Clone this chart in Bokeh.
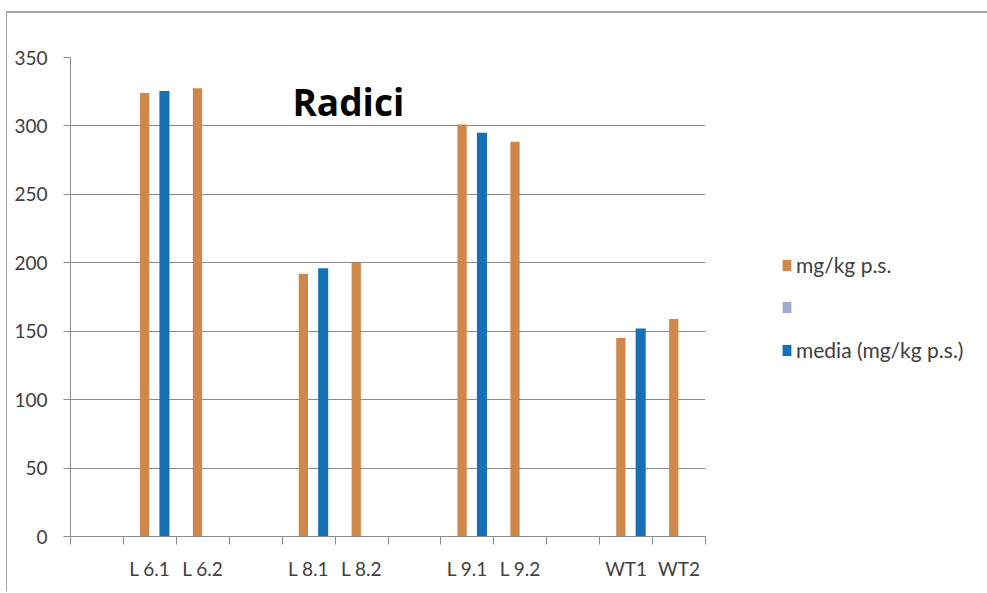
from bokeh.plotting import figure
from bokeh.models import FixedTicker, Legend, LegendItem, Label, ColumnDataSource, Range1d
from bokeh.embed import file_html
from bokeh.resources import INLINE

# ---- data ----
categories = ["", "L 6.1", "L 6.2", "", "L 8.1", "L 8.2", "", "L 9.1", "L 9.2", "", "WT1", "WT2"]
samples = ["L 6.1", "L 6.2", "L 8.1", "L 8.2", "L 9.1", "L 9.2", "WT1", "WT2"]
mg_kg = [324, 327.5, 192, 200, 301, 288.5, 145, 159]
media_samples = ["L 6.1", "L 8.1", "L 9.1", "WT1"]
media = [325.5, 196, 295, 152]
empty_samples = ["L 6.1"]
empty_values = [0]
y_ticks = [0, 50, 100, 150, 200, 250, 300, 350]
series_names = ["mg/kg p.s.", " ", "media (mg/kg p.s.)"]
title_text = "Radici"

ORANGE = "#D0874A"
GRAY = "#9AADD0"
BLUE = "#1570B6"
TEXT = "#404040"
LINE = "#8C8C8C"
FONT = "Lato"

n = len(categories)
centers = [i + 0.5 for i in range(n)]
bounds = list(range(n + 1))

p = figure(frame_width=635, frame_height=479, x_range=Range1d(0, n), y_range=Range1d(0, 350),
           output_backend="svg", toolbar_location=None,
           min_border_left=63, min_border_right=280, min_border_top=44, min_border_bottom=55)
p.outline_line_color = None
p.background_fill_color = "white"
p.border_fill_color = "white"
p.styles = {"border-top": "2px solid #a6a6a6", "border-left": "1px solid #a6a6a6",
            "margin-left": "6px", "margin-top": "11px"}

src_mg = ColumnDataSource(dict(x=[categories.index(s) + 0.5 - 0.1 for s in samples], top=mg_kg))
src_md = ColumnDataSource(dict(x=[categories.index(s) + 0.5 + 0.275 for s in media_samples], top=media))
src_empty = ColumnDataSource(dict(x=[categories.index(s) + 0.5 + 0.09 for s in empty_samples], top=empty_values))

r_mg = p.vbar(x="x", top="top", width=0.175, source=src_mg, fill_color=ORANGE, line_color=None)
r_empty = p.vbar(x="x", top="top", width=0.175, source=src_empty, fill_color=GRAY, line_color=None)
r_md = p.vbar(x="x", top="top", width=0.19, source=src_md, fill_color=BLUE, line_color=None)

# x axis: labels at centers, tick marks at boundaries
p.xaxis.ticker = FixedTicker(ticks=centers, minor_ticks=bounds)
p.xaxis.major_label_overrides = {c: lab for c, lab in zip(centers, categories)}
p.xaxis.major_tick_out = 0
p.xaxis.major_tick_in = 0
p.xaxis.minor_tick_out = 8
p.xaxis.minor_tick_in = 0
p.xaxis.minor_tick_line_color = LINE
p.xaxis.axis_line_color = LINE
p.xaxis.major_label_standoff = 12
p.xaxis.major_label_text_font = FONT
p.xaxis.major_label_text_font_size = "19px"
p.xaxis.major_label_text_color = TEXT
p.xgrid.grid_line_color = None

p.yaxis.ticker = FixedTicker(ticks=y_ticks)
p.yaxis.major_tick_out = 7
p.yaxis.major_tick_in = 0
p.yaxis.minor_tick_out = 0
p.yaxis.minor_tick_in = 0
p.yaxis.major_tick_line_color = LINE
p.yaxis.axis_line_color = LINE
p.yaxis.major_label_standoff = 16
p.yaxis.major_label_text_font = FONT
p.yaxis.major_label_text_font_size = "19px"
p.yaxis.major_label_text_color = TEXT
p.ygrid.grid_line_color = LINE
p.ygrid.grid_line_width = 1

p.add_layout(Label(x=5.25, y=317.5, text=title_text, text_font="Open Sans", text_font_style="bold",
                   text_font_size="37px", text_align="center", text_baseline="alphabetic",
                   text_color="black"))

legend = Legend(items=[LegendItem(label=series_names[0], renderers=[r_mg]),
                       LegendItem(label=series_names[1], renderers=[r_empty]),
                       LegendItem(label=series_names[2], renderers=[r_md])],
                location=(76, 174), orientation="vertical")
legend.border_line_color = None
legend.background_fill_alpha = 0
legend.padding = 0
legend.margin = 0
legend.spacing = 18
legend.label_height = 24
legend.glyph_height = 14
legend.glyph_width = 11
legend.label_standoff = 4
legend.label_text_font = FONT
legend.label_text_font_size = "21px"
legend.label_text_color = TEXT
p.add_layout(legend, "right")

open("out.html", "w").write(file_html(p, INLINE))
